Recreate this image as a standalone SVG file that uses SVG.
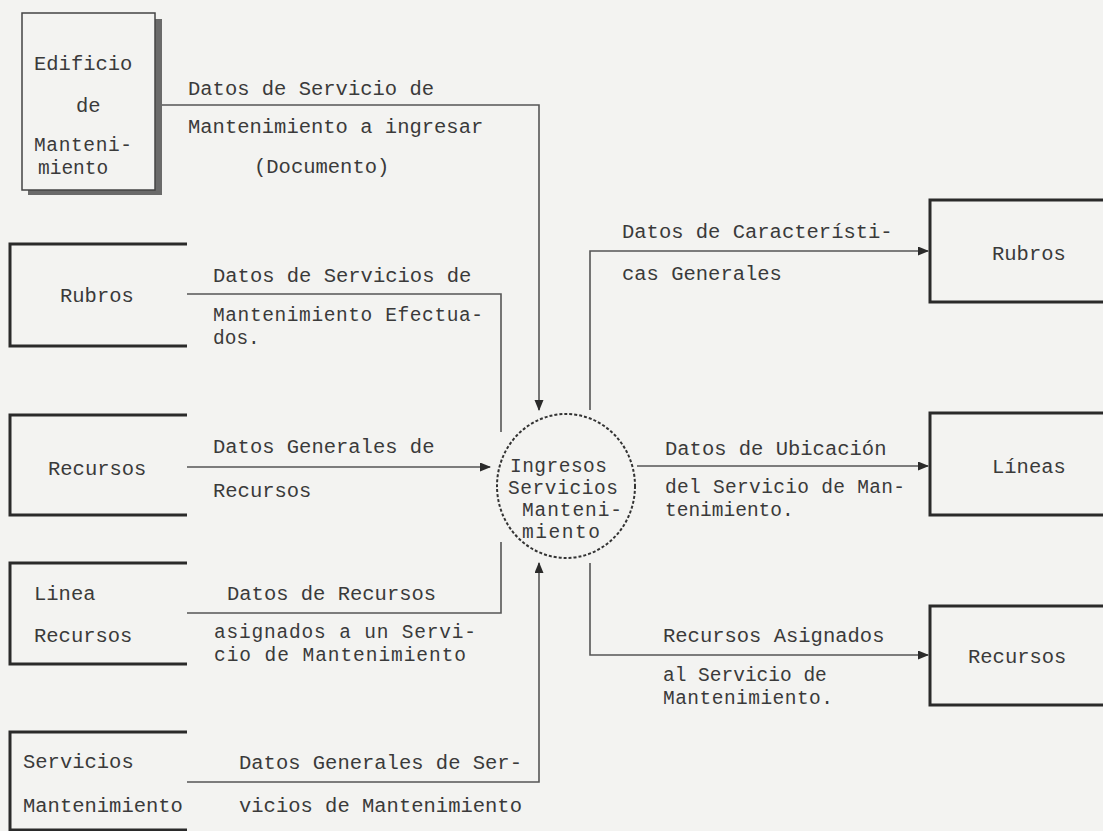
<svg xmlns="http://www.w3.org/2000/svg" width="1103" height="831" viewBox="0 0 1103 831">
<style>
text{font-family:"Liberation Mono","DejaVu Sans Mono",monospace;font-size:20.5px;fill:#3a3a3a}
.tight{font-size:19.5px}
.box{fill:none;stroke:#2a2a2a;stroke-width:3}
.flow{fill:none;stroke:#555;stroke-width:1.6}
.proc{fill:none;stroke:#333;stroke-width:2;stroke-dasharray:3 2}
</style>
<defs>
<marker id="arr" markerWidth="11" markerHeight="10" refX="10" refY="4.5" orient="auto" markerUnits="userSpaceOnUse"><path d="M0,0 L11,4.5 L0,9 z" fill="#2a2a2a"/></marker>
</defs>
<rect width="1103" height="831" fill="#f3f3f1"/>

<g id="connectors">
<path class="flow" d="M162,105 H539 V410" marker-end="url(#arr)"/>
<path class="flow" d="M187,294 H501 V432"/>
<path class="flow" d="M187,467 H490" marker-end="url(#arr)"/>
<path class="flow" d="M187,613 H501 V542"/>
<path class="flow" d="M187,782 H539 V563" marker-end="url(#arr)"/>
<path class="flow" d="M590,410 V251 H928" marker-end="url(#arr)"/>
<path class="flow" d="M637,466 H928" marker-end="url(#arr)"/>
<path class="flow" d="M590,563 V655 H928" marker-end="url(#arr)"/>
<text x="188" y="95">Datos de Servicio de</text>
<text x="188" y="133">Mantenimiento a ingresar</text>
<text x="254" y="173">(Documento)</text>
<text x="213" y="282">Datos de Servicios de</text>
<text x="213" y="321" class="tight" textLength="270">Mantenimiento Efectua-</text>
<text x="213" y="344" class="tight">dos.</text>
<text x="213" y="453">Datos Generales de</text>
<text x="213" y="497">Recursos</text>
<text x="227" y="600">Datos de Recursos</text>
<text x="214" y="638" class="tight" textLength="262">asignados a un Servi-</text>
<text x="214" y="661" class="tight" textLength="252">cio de Mantenimiento</text>
<text x="239" y="769">Datos Generales de Ser-</text>
<text x="239" y="812">vicios de Mantenimiento</text>
<text x="622" y="238">Datos de Característi-</text>
<text x="622" y="280">cas Generales</text>
<text x="665" y="455">Datos de Ubicación</text>
<text x="665" y="493" class="tight" textLength="240">del Servicio de Man-</text>
<text x="665" y="516" class="tight">tenimiento.</text>
<text x="663" y="642">Recursos Asignados</text>
<text x="663" y="681" class="tight">al Servicio de</text>
<text x="663" y="704" class="tight" textLength="170">Mantenimiento.</text>
</g>

<g id="n-edificio">
<rect x="28" y="19" width="134" height="176" fill="#6a6a6a"/>
<rect x="22" y="13" width="133" height="177" fill="#f3f3f1" stroke="#444" stroke-width="1.5"/>
<text x="34" y="70">Edificio</text>
<text x="76" y="112">de</text>
<text x="34" y="151" class="tight" textLength="98">Manteni-</text>
<text x="38" y="174" class="tight">miento</text>
</g>

<g id="n-rubros-in">
<path class="box" d="M187,244 H10 V346 H187"/>
<text x="60" y="302">Rubros</text>
</g>

<g id="n-recursos-in">
<path class="box" d="M187,415 H10 V515 H187"/>
<text x="48" y="475">Recursos</text>
</g>

<g id="n-linea-recursos">
<path class="box" d="M187,563 H10 V664 H187"/>
<text x="34" y="600">Linea</text>
<text x="34" y="642">Recursos</text>
</g>

<g id="n-servicios-mant">
<path class="box" d="M187,732 H10 V830 H187"/>
<text x="23" y="768">Servicios</text>
<text x="23" y="812">Mantenimiento</text>
</g>

<g id="n-proceso">
<ellipse class="proc" cx="566" cy="486" rx="69" ry="72"/>
<text x="510" y="472" class="tight" textLength="97">Ingresos</text>
<text x="508" y="494" class="tight" textLength="110">Servicios</text>
<text x="522" y="516" class="tight" textLength="100">Manteni-</text>
<text x="522" y="538" class="tight" textLength="78">miento</text>
</g>

<g id="n-rubros-out">
<path class="box" d="M1105,200 H930 V302 H1105"/>
<text x="992" y="260">Rubros</text>
</g>

<g id="n-lineas-out">
<path class="box" d="M1105,413 H930 V515 H1105"/>
<text x="992" y="473">Líneas</text>
</g>

<g id="n-recursos-out">
<path class="box" d="M1105,606 H930 V705 H1105"/>
<text x="968" y="663">Recursos</text>
</g>
</svg>
